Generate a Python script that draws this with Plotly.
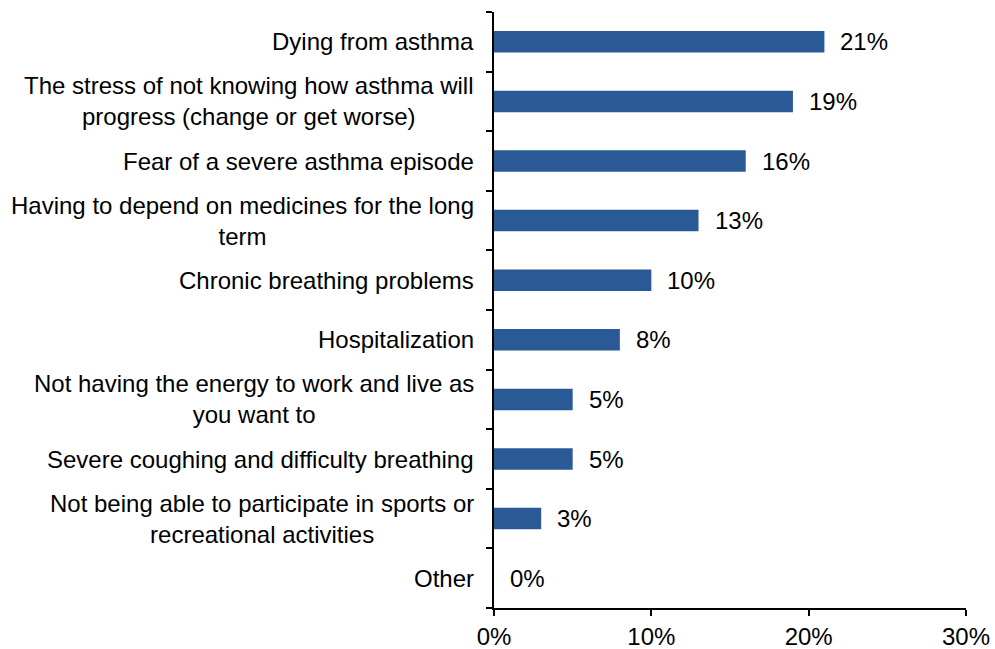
import plotly.graph_objects as go

categories = [
    "Dying from asthma",
    "The stress of not knowing how asthma will<br>progress (change or get worse)",
    "Fear of a severe asthma episode",
    "Having to depend on medicines for the long<br>term",
    "Chronic breathing problems",
    "Hospitalization",
    "Not having the energy to work and live as<br>you want to",
    "Severe coughing and difficulty breathing",
    "Not being able to participate in sports or<br>recreational activities",
    "Other",
]
values = [21, 19, 16, 13, 10, 8, 5, 5, 3, 0]
value_labels = ["21%", "19%", "16%", "13%", "10%", "8%", "5%", "5%", "3%", "0%"]
x_ticks = [0, 10, 20, 30]
x_tick_labels = ["0%", "10%", "20%", "30%"]

FONT = "Liberation Sans, Arial, sans-serif"
FS = 24
BAR = "#2A5A95"

fig = go.Figure(go.Bar(
    x=values, y=categories, orientation="h",
    marker=dict(color=BAR, line=dict(width=0)),
    width=0.36,
    hoverinfo="skip",
))

for v, c, t in zip(values, categories, value_labels):
    fig.add_annotation(x=v, y=c, text=t, showarrow=False, xanchor="left",
                       xshift=14, font=dict(family=FONT, size=FS, color="#000"))
    # category label, centred multi-line, to the left of the axis
    fig.add_annotation(x=0, xref="paper", y=c, text=c, showarrow=False,
                       xanchor="right", align="center", xshift=-18,
                       font=dict(family=FONT, size=FS, color="#000"))

fig.update_layout(
    width=995, height=649,
    margin=dict(l=494, r=29, t=12, b=41, autoexpand=False),
    paper_bgcolor="white", plot_bgcolor="white",
    showlegend=False,
    font=dict(family=FONT, size=FS, color="#000"),
)
fig.update_xaxes(
    range=[0, 30], tickvals=x_ticks, ticktext=x_tick_labels,
    showgrid=False, zeroline=False, showline=True, linecolor="#000", linewidth=1.5,
    ticks="outside", ticklen=6, tickwidth=1.5, tickcolor="#000",
    tickfont=dict(family=FONT, size=FS, color="#000"),
    automargin=False,
)
fig.update_yaxes(
    categoryorder="array", categoryarray=categories[::-1],
    autorange=False, range=[-0.5, 9.5],
    showgrid=False, zeroline=False, showline=True, linecolor="#000", linewidth=1.5,
    ticks="outside", ticklen=6, tickwidth=1.5, tickcolor="#000",
    tickson="boundaries", showticklabels=False,
    automargin=False,
)

fig.write_html("out.html",
               config={"displayModeBar": False},
               post_script="document.body.style.margin='0';document.body.style.overflow='hidden';")
